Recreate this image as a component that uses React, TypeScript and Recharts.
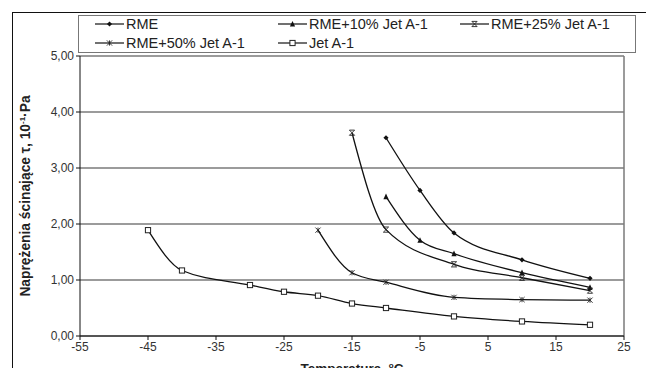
import { CartesianGrid, Line, LineChart, XAxis, YAxis, ReferenceLine } from 'recharts'

const rmeTemps = [-10, -5, 0, 10, 20]
const rmeVals = [3.54, 2.6, 1.84, 1.36, 1.03]
const rme10Temps = [-10, -5, 0, 10, 20]
const rme10Vals = [2.49, 1.71, 1.47, 1.13, 0.87]
const rme25Temps = [-15, -10, 0, 10, 20]
const rme25Vals = [3.63, 1.9, 1.28, 1.04, 0.81]
const rme50Temps = [-20, -15, -10, 0, 10, 20]
const rme50Vals = [1.89, 1.13, 0.96, 0.69, 0.65, 0.64]
const jetTemps = [-45, -40, -30, -25, -20, -15, -10, 0, 10, 20]
const jetVals = [1.89, 1.17, 0.91, 0.79, 0.72, 0.58, 0.5, 0.35, 0.26, 0.2]

const xTicks = [-55, -45, -35, -25, -15, -5, 5, 15, 25]
const yTicks = [0, 1, 2, 3, 4, 5]

const seriesNames = ['RME', 'RME+10% Jet A-1', 'RME+25% Jet A-1', 'RME+50% Jet A-1', 'Jet A-1']

const toRows = (temps: number[], vals: number[]) => temps.map((t, i) => ({ t, v: vals[i] }))

type Kind = 'diamond' | 'triangle' | 'x' | 'star' | 'square'

function Marker({ cx, cy, kind }: { cx: number; cy: number; kind: Kind }) {
  const s = 2.6
  if (kind === 'diamond')
    return <path d={`M${cx},${cy - s} L${cx + s},${cy} L${cx},${cy + s} L${cx - s},${cy} Z`} fill="#111" />
  if (kind === 'triangle')
    return <path d={`M${cx},${cy - s - 0.5} L${cx + s},${cy + s} L${cx - s},${cy + s} Z`} fill="#111" />
  if (kind === 'x')
    return (
      <path
        d={`M${cx - s},${cy - s} L${cx + s},${cy + s} M${cx - s},${cy + s} L${cx + s},${cy - s} M${cx - s},${cy - s} L${cx + s},${cy - s} M${cx - s},${cy + s} L${cx + s},${cy + s}`}
        stroke="#222"
        strokeWidth={0.9}
        fill="none"
      />
    )
  if (kind === 'star')
    return (
      <path
        d={`M${cx - s},${cy - s} L${cx + s},${cy + s} M${cx - s},${cy + s} L${cx + s},${cy - s} M${cx},${cy - s} L${cx},${cy + s}`}
        stroke="#222"
        strokeWidth={0.9}
        fill="none"
      />
    )
  return <rect x={cx - s} y={cy - s} width={s * 2} height={s * 2} fill="#fff" stroke="#222" strokeWidth={1} />
}

const dotFor = (kind: Kind) => (p: any) => <Marker key={`${kind}-${p.index}`} cx={p.cx} cy={p.cy} kind={kind} />

const kinds: Kind[] = ['diamond', 'triangle', 'x', 'star', 'square']

function LegendItem({ name, kind, left, top }: { name: string; kind: Kind; left: number; top: number }) {
  return (
    <div style={{ position: 'absolute', left, top, height: 16, display: 'flex', alignItems: 'center', whiteSpace: 'nowrap' }}>
      <svg width={29} height={10}>
        <line x1={0} y1={5} x2={29} y2={5} stroke="#111" strokeWidth={1.2} />
        <Marker cx={14.5} cy={5} kind={kind} />
      </svg>
      <span style={{ marginLeft: 2 }}>{name}</span>
    </div>
  )
}

const supStyle = { fontSize: 8, position: 'relative' as const, top: -5, verticalAlign: 'baseline' }

export default function App() {
  const font = '"Liberation Sans", Arial, sans-serif'
  return (
    <div style={{ position: 'relative', width: 654, height: 376, margin: -8, overflow: 'hidden', background: '#fff', fontFamily: font }}>
      <div style={{ position: 'absolute', left: 12, top: 12, width: 633, height: 380, border: '1px solid #111' }} />
      <div
        style={{
          position: 'absolute',
          left: 78,
          top: 15,
          width: 556,
          height: 36,
          border: '1px solid #777',
          fontSize: 14.5,
          lineHeight: '16px',
          color: '#222',
        }}
      >
        <LegendItem name={seriesNames[0]} kind={kinds[0]} left={16} top={0} />
        <LegendItem name={seriesNames[1]} kind={kinds[1]} left={199} top={0} />
        <LegendItem name={seriesNames[2]} kind={kinds[2]} left={381} top={0} />
        <LegendItem name={seriesNames[3]} kind={kinds[3]} left={16} top={19} />
        <LegendItem name={seriesNames[4]} kind={kinds[4]} left={199} top={19} />
      </div>
      <div
        style={{
          position: 'absolute',
          left: 27,
          top: 196,
          transform: 'translate(-50%, -50%) rotate(-90deg)',
          whiteSpace: 'nowrap',
          fontSize: 13.8,
          fontWeight: 'bold',
          color: '#222',
          lineHeight: '16px',
        }}
      >
        Naprężenia ścinające τ, 10<span style={supStyle}>-1</span>·Pa
      </div>
      <div style={{ position: 'absolute', left: 0, top: 0 }}>
        <LineChart width={654} height={376} margin={{ top: 56, right: 30, bottom: 0, left: 30 }}>
          <CartesianGrid horizontal vertical={false} stroke="#7a7a7a" strokeWidth={1.5} />
          <XAxis
            type="number"
            dataKey="t"
            domain={[-55, 25]}
            ticks={xTicks}
            allowDuplicatedCategory={false}
            height={40}
            stroke="#111"
            tickSize={4}
            tick={{ fontSize: 12, fill: '#333', fontFamily: font }}
          />
          <YAxis
            type="number"
            domain={[0, 5]}
            ticks={yTicks}
            width={50}
            stroke="#111"
            tickSize={4}
            tickFormatter={(v: number) => v.toFixed(2).replace('.', ',')}
            tick={{ fontSize: 12, fill: '#333', fontFamily: font }}
          />
          <ReferenceLine x={25} stroke="#7a7a7a" strokeWidth={1.5} />
          <Line data={toRows(rmeTemps, rmeVals)} dataKey="v" name={seriesNames[0]} type="monotone" stroke="#111" strokeWidth={1.3} dot={dotFor('diamond')} isAnimationActive={false} />
          <Line data={toRows(rme10Temps, rme10Vals)} dataKey="v" name={seriesNames[1]} type="monotone" stroke="#111" strokeWidth={1.3} dot={dotFor('triangle')} isAnimationActive={false} />
          <Line data={toRows(rme25Temps, rme25Vals)} dataKey="v" name={seriesNames[2]} type="monotone" stroke="#111" strokeWidth={1.3} dot={dotFor('x')} isAnimationActive={false} />
          <Line data={toRows(rme50Temps, rme50Vals)} dataKey="v" name={seriesNames[3]} type="monotone" stroke="#111" strokeWidth={1.3} dot={dotFor('star')} isAnimationActive={false} />
          <Line data={toRows(jetTemps, jetVals)} dataKey="v" name={seriesNames[4]} type="monotone" stroke="#111" strokeWidth={1.3} dot={dotFor('square')} isAnimationActive={false} />
        </LineChart>
      </div>
      <div
        style={{
          position: 'absolute',
          left: 352,
          top: 361,
          transform: 'translateX(-50%)',
          whiteSpace: 'nowrap',
          fontSize: 13.5,
          fontWeight: 'bold',
          color: '#222',
          lineHeight: '15px',
        }}
      >
        Temperatura, <span style={supStyle}>o</span>C
      </div>
    </div>
  )
}
